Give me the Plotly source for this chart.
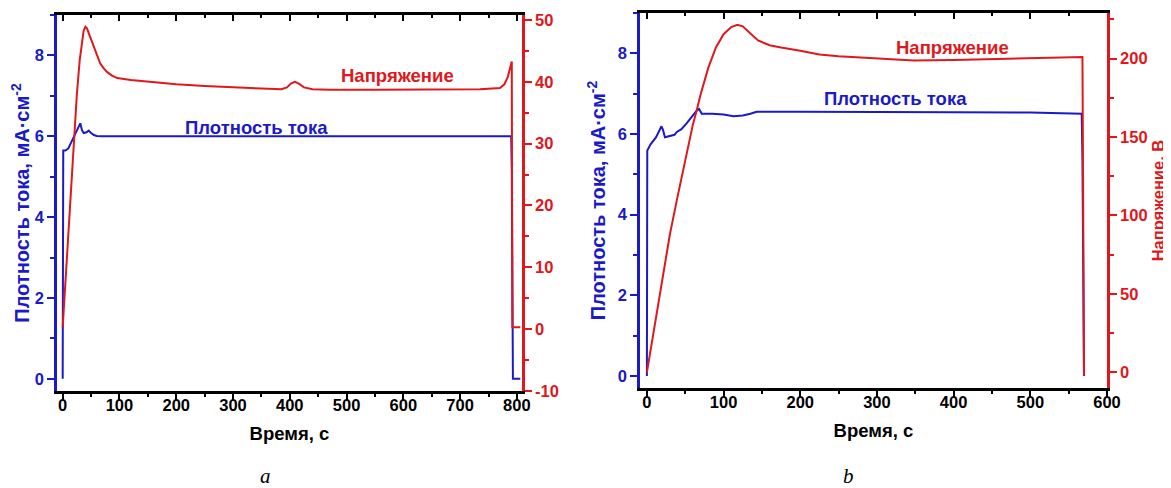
import plotly.graph_objects as go

# ---------------- data ----------------
# panel a
ta_j = [0, 0.5, 1, 5, 10, 15, 20, 25, 28, 31, 34, 37, 42, 46, 50, 55, 60, 70, 100,
        200, 300, 400, 500, 600, 700, 790, 791, 792, 793, 806]
ja = [0, 4.2, 5.65, 5.65, 5.7, 5.85, 6.0, 6.15, 6.25, 6.32, 6.15, 6.08, 6.1, 6.14, 6.08,
      6.03, 6.01, 6.0, 6.0, 6.0, 6.0, 6.0, 6.0, 6.0, 6.0, 6.0, 5.2, 1.25, 0, 0]

ta_v = [0, 5, 10, 15, 20, 25, 30, 34, 37, 40, 43, 47, 54, 60, 66, 72, 78, 87, 96, 120,
        150, 200, 250, 312, 350, 385, 395, 402, 409, 416, 425, 440, 471, 550, 650, 735,
        770, 778, 784, 788, 791, 792, 806]
va = [0.3, 8, 15.8, 23.5, 31, 38, 43.5, 46.8, 48.3, 48.9, 48.6, 47.6, 45.8, 44.2, 43,
      42.2, 41.6, 41.0, 40.6, 40.3, 40, 39.6, 39.3, 39.0, 38.9, 38.8, 39.1, 39.7, 40.0,
      39.7, 39.1, 38.8, 38.7, 38.7, 38.8, 38.8, 39.0, 39.6, 40.8, 42.5, 43.3, 0.3, 0.3]

# panel b
tb_j = [0, 0.5, 5, 12, 19, 21, 23.5, 30, 36, 39, 45, 52, 58, 65, 68, 71.5, 85, 100, 113,
        125, 135, 143, 200, 300, 400, 500, 567, 568, 569, 570]
jb = [0, 5.59, 5.75, 5.92, 6.19, 6.1, 5.92, 5.95, 5.98, 6.05, 6.12, 6.27, 6.42, 6.58,
      6.62, 6.5, 6.5, 6.48, 6.44, 6.46, 6.5, 6.55, 6.55, 6.55, 6.54, 6.53, 6.5, 5.35,
      2.7, 0]

tb_v = [0, 10, 20, 30, 40, 50, 60, 65, 70, 80, 90, 100, 110, 118, 125, 135, 145, 160,
        175, 200, 225, 250, 283, 320, 348, 400, 450, 500, 540, 566, 568, 570]
vb = [0, 30, 60, 88, 112, 135, 158, 167, 177, 194, 207, 215.5, 220, 221.5, 220.5, 216,
      211.5, 208.5, 207, 205, 202.5, 201.5, 200.6, 199.4, 198.8, 199, 199.5, 200, 200.5,
      201, 201, -2]

# tick labels
a_right_vals = [-10, 0, 10, 20, 30, 40, 50]
a_right_text = ["-10", "0", "10", "20", "30", "40", "50"]

# ---------------- styling ----------------
BLUE = "#1a1ac8"
RED = "#e0181c"
FONT = "Liberation Sans"
OFF = 8                      # page body margin
W, H = 1171 - OFF, 488 - OFF


def px_x(p):
    return (p - OFF) / W


def px_y(p):
    return 1 - (p - OFF) / H


a_xdom = [px_x(57), px_x(522)]
a_ydom = [px_y(391), px_y(15)]
b_xdom = [px_x(640), px_x(1107)]
b_ydom = [px_y(388), px_y(13)]

TS = 16.5
tickfont_black = dict(family=FONT, size=TS, color="black", weight="bold")
tickfont_blue = dict(family=FONT, size=TS, color=BLUE, weight="bold")
tickfont_red = dict(family=FONT, size=TS, color=RED, weight="bold")
LW = 2.5

fig = go.Figure()

# panel a
fig.add_trace(go.Scatter(x=ta_j, y=ja, mode="lines", xaxis="x", yaxis="y",
                         line=dict(color=BLUE, width=2), showlegend=False))
fig.add_trace(go.Scatter(x=ta_v, y=va, mode="lines", xaxis="x", yaxis="y2",
                         line=dict(color=RED, width=2), showlegend=False))
# panel b
fig.add_trace(go.Scatter(x=tb_j, y=jb, mode="lines", xaxis="x2", yaxis="y3",
                         line=dict(color=BLUE, width=2), showlegend=False))
fig.add_trace(go.Scatter(x=tb_v, y=vb, mode="lines", xaxis="x2", yaxis="y4",
                         line=dict(color=RED, width=2), showlegend=False))
# top frame axes (empty traces so they are drawn)
fig.add_trace(go.Scatter(x=[], y=[], xaxis="x3", yaxis="y", showlegend=False))
fig.add_trace(go.Scatter(x=[], y=[], xaxis="x4", yaxis="y3", showlegend=False))

xtitle_font = dict(family=FONT, size=18.5, color="black", weight="bold")
ytitle_blue = dict(family=FONT, size=20, color=BLUE, weight="bold")
ytitle_red = dict(family=FONT, size=16.5, color=RED, weight="bold")

common_x = dict(showgrid=False, zeroline=False, showline=True, linecolor="black",
                linewidth=LW, ticks="outside", ticklen=6, tickwidth=2, tickcolor="black",
                tickfont=tickfont_black, automargin=False, ticklabelstandoff=-9,
                minor=dict(ticks="outside", ticklen=3, tickwidth=2, tickcolor="black", dtick=50))

top_x = dict(side="top", showgrid=False, zeroline=False, showline=True, linecolor="black",
             linewidth=LW, ticks="inside", ticklen=6, tickwidth=2, tickcolor="black",
             tick0=0, dtick=100, showticklabels=False,
             minor=dict(ticks="inside", ticklen=3, tickwidth=2, tickcolor="black", dtick=50))

fig.update_layout(
    width=W, height=H, margin=dict(l=0, r=0, t=0, b=0),
    paper_bgcolor="white", plot_bgcolor="white", showlegend=False,
    xaxis=dict(domain=a_xdom, range=[-10, 809], anchor="y", tick0=0, dtick=100,
               title=dict(text="Время, с", font=xtitle_font, standoff=15), **common_x),
    xaxis2=dict(domain=b_xdom, range=[-9, 600], anchor="y3", tick0=0, dtick=100,
                title=dict(text="Время, с", font=xtitle_font, standoff=15), **common_x),
    xaxis3=dict(overlaying="x", anchor="y", range=[-10, 809], **top_x),
    xaxis4=dict(overlaying="x2", anchor="y3", range=[-9, 600], **top_x),
    yaxis=dict(domain=a_ydom, range=[-0.3, 9.0], anchor="x", tick0=0, dtick=2,
               showgrid=False, zeroline=False, showline=True, linecolor=BLUE, linewidth=LW,
               ticks="outside", ticklen=7, tickwidth=2, tickcolor=BLUE, tickfont=tickfont_blue,
               minor=dict(ticks="outside", ticklen=4, tickwidth=2, tickcolor=BLUE, dtick=1),
               automargin=False,
               title=dict(text="Плотность тока, мА·см<sup>-2</sup>", font=ytitle_blue,
                          standoff=7)),
    yaxis2=dict(overlaying="y", side="right", anchor="x", range=[-10, 50.8],
                tickmode="array", tickvals=a_right_vals, ticktext=a_right_text,
                showgrid=False, zeroline=False, showline=True, linecolor=RED, linewidth=LW,
                ticks="outside", ticklen=7, tickwidth=2, tickcolor=RED, tickfont=tickfont_red,
                minor=dict(ticks="outside", ticklen=4, tickwidth=2, tickcolor=RED,
                           tickmode="linear", tick0=-5, dtick=10),
                automargin=False),
    yaxis3=dict(domain=b_ydom, range=[-0.3, 9.0], anchor="x2", tick0=0, dtick=2,
                showgrid=False, zeroline=False, showline=True, linecolor=BLUE, linewidth=LW,
                ticks="outside", ticklen=7, tickwidth=2, tickcolor=BLUE, tickfont=tickfont_blue,
                minor=dict(ticks="outside", ticklen=4, tickwidth=2, tickcolor=BLUE, dtick=1),
                automargin=False,
                title=dict(text="Плотность тока, мА·см<sup>-2</sup>", font=ytitle_blue,
                           standoff=7)),
    yaxis4=dict(overlaying="y3", side="right", anchor="x2", range=[-10, 229],
                tick0=0, dtick=50,
                showgrid=False, zeroline=False, showline=True, linecolor=RED, linewidth=LW,
                ticks="outside", ticklen=7, tickwidth=2, tickcolor=RED, tickfont=tickfont_red,
                minor=dict(ticks="outside", ticklen=4, tickwidth=2, tickcolor=RED,
                           tick0=25, dtick=50),
                automargin=False,
                title=dict(text="Напряжение, В", font=ytitle_red, standoff=6)),
)

ann_font_red = dict(family=FONT, size=18.5, color=RED, weight="bold")
ann_font_blue = dict(family=FONT, size=18.5, color=BLUE, weight="bold")
ann = dict(xref="paper", yref="paper", showarrow=False, xanchor="center", yanchor="middle")
fig.add_annotation(text="Напряжение", x=px_x(397), y=px_y(75), font=ann_font_red, **ann)
fig.add_annotation(text="Плотность тока", x=px_x(256), y=px_y(127), font=ann_font_blue, **ann)
fig.add_annotation(text="Напряжение", x=px_x(952), y=px_y(47), font=ann_font_red, **ann)
fig.add_annotation(text="Плотность тока", x=px_x(895), y=px_y(98), font=ann_font_blue, **ann)
lab_font = dict(family="Liberation Serif", size=21, color="black", style="italic")
fig.add_annotation(text="a", x=px_x(265), y=px_y(476), font=lab_font, **ann)
fig.add_annotation(text="b", x=px_x(848), y=px_y(476), font=lab_font, **ann)

fig.write_html("out.html")
